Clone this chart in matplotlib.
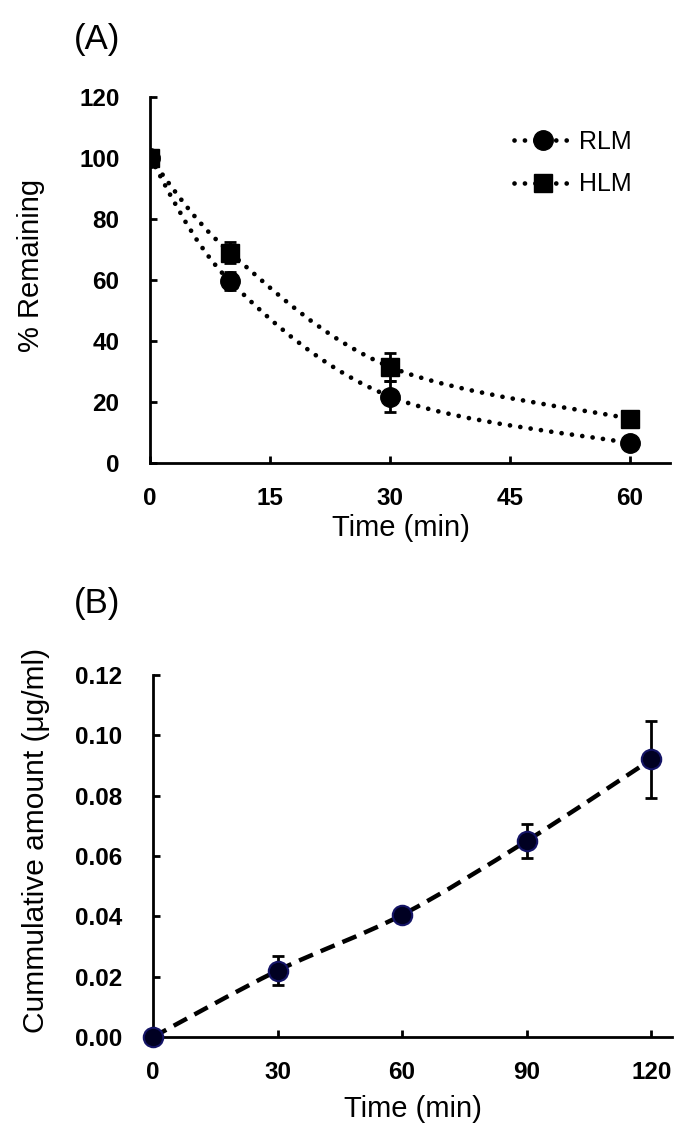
import matplotlib
matplotlib.use("Agg")
import matplotlib.pyplot as plt
import numpy as np
from matplotlib.path import Path
from matplotlib.patches import PathPatch
from matplotlib.lines import Line2D

plt.rcParams['font.family'] = ['Liberation Sans', 'DejaVu Sans']

# ---- data ----
time_a = [0, 10, 30, 60]
rlm = [100, 59.6, 21.8, 6.5]
rlm_err = [1.0, 3.0, 5.0, 1.5]
hlm = [100, 69.0, 31.5, 14.5]
hlm_err = [1.0, 3.5, 4.5, 1.5]
xticks_a = [0, 15, 30, 45, 60]
yticks_a = [0, 20, 40, 60, 80, 100, 120]

time_b = [0, 30, 60, 90, 120]
cum = [0.0, 0.022, 0.0405, 0.065, 0.092]
cum_err = [0.0, 0.0048, 0.001, 0.0055, 0.0128]
xticks_b = [0, 30, 60, 90, 120]
yticks_b = [0.00, 0.02, 0.04, 0.06, 0.08, 0.10, 0.12]

W, H = 692, 1140
fig = plt.figure(figsize=(W / 100, H / 100), dpi=100)


def smooth_path(xs, ys):
    """Excel-like smoothed line (Catmull-Rom as cubic Bezier)."""
    pts = np.column_stack([xs, ys]).astype(float)
    n = len(pts)
    verts = [pts[0]]
    codes = [Path.MOVETO]
    for i in range(n - 1):
        p0 = pts[i - 1] if i > 0 else pts[i]
        p1 = pts[i]
        p2 = pts[i + 1]
        p3 = pts[i + 2] if i + 2 < n else pts[i + 1]
        c1 = p1 + (p2 - p0) / 6.0
        c2 = p2 - (p3 - p1) / 6.0
        verts += [c1, c2, p2]
        codes += [Path.CURVE4] * 3
    return Path(verts, codes)


def style_axes(ax, xpad, ypad):
    for s in ['top', 'right']:
        ax.spines[s].set_visible(False)
    for s in ['left', 'bottom']:
        ax.spines[s].set_linewidth(2.0)
    ax.tick_params(direction='in', length=5, width=2.0, labelsize=17.5)
    ax.tick_params(axis='x', pad=xpad)
    ax.tick_params(axis='y', pad=ypad)
    for lab in ax.get_xticklabels() + ax.get_yticklabels():
        lab.set_fontweight('bold')


def px(x, y):
    return x / W, 1 - y / H


# ---- Panel A ----
axA = fig.add_axes([150 / W, 1 - 463 / H, 520 / W, (463 - 97) / H])
axA.set_xlim(0, 65)
axA.set_ylim(0, 120)
axA.set_xticks(xticks_a)
axA.set_yticks(yticks_a)

dot_lw = 3.4
dot_style = (0, (0.01, 2.2))
for xs, ys in [(time_a, rlm), (time_a, hlm)]:
    patch = PathPatch(smooth_path(xs, ys), fill=False, edgecolor='black',
                      linewidth=dot_lw, linestyle=dot_style, capstyle='round', zorder=2)
    axA.add_patch(patch)

axA.errorbar(time_a, rlm, yerr=rlm_err, fmt='o', color='black', markersize=14,
             elinewidth=2, capsize=4.5, capthick=2, zorder=3)
axA.errorbar(time_a, hlm, yerr=hlm_err, fmt='s', color='black', markersize=12.5,
             elinewidth=2, capsize=4.5, capthick=2, zorder=3)

h1 = Line2D([], [], color='black', linestyle=dot_style, linewidth=dot_lw,
            dash_capstyle='round', marker='o', markersize=14)
h2 = Line2D([], [], color='black', linestyle=dot_style, linewidth=dot_lw,
            dash_capstyle='round', marker='s', markersize=12.5)
axA.legend([h1, h2], ['RLM', 'HLM'], loc='upper right', bbox_to_anchor=(0.945, 0.938),
           frameon=False, fontsize=18, handlelength=2.3, handletextpad=0.3,
           labelspacing=0.75, borderaxespad=0.0)
style_axes(axA, xpad=17, ypad=22)

# ---- Panel B ----
axB = fig.add_axes([153 / W, 1 - 1037 / H, 519 / W, (1037 - 675) / H])
axB.set_xlim(0, 125)
axB.set_ylim(0, 0.12)
axB.set_xticks(xticks_b)
axB.set_yticks(yticks_b)
axB.set_yticklabels([f"{v:.2f}" for v in yticks_b])

patchB = PathPatch(smooth_path(time_b, cum), fill=False, edgecolor='black',
                   linewidth=3.2, linestyle=(0, (3.4, 1.9)), capstyle='butt', zorder=2)
axB.add_patch(patchB)
axB.errorbar(time_b, cum, yerr=cum_err, fmt='none', ecolor='black', elinewidth=2,
             capsize=4.5, capthick=2, zorder=3)
axB.plot(time_b, cum, linestyle='none', marker='o', markersize=14,
         markerfacecolor='#000022', markeredgecolor='#141466', markeredgewidth=1.5,
         zorder=4, clip_on=False)
style_axes(axB, xpad=17, ypad=22)

# ---- texts ----
fig.text(*px(97, 40), '(A)', fontsize=25, ha='center', va='center')
fig.text(*px(97, 604), '(B)', fontsize=25, ha='center', va='center')
fig.text(*px(31, 265), '% Remaining', fontsize=21, rotation=90, ha='center', va='center')
fig.text(*px(401, 528), 'Time (min)', fontsize=21, ha='center', va='center')
fig.text(*px(36, 840), 'Cummulative amount (μg/ml)', fontsize=21.5, rotation=90,
         ha='center', va='center')
fig.text(*px(413, 1109), 'Time (min)', fontsize=21, ha='center', va='center')

fig.savefig('out.png', dpi=100)
